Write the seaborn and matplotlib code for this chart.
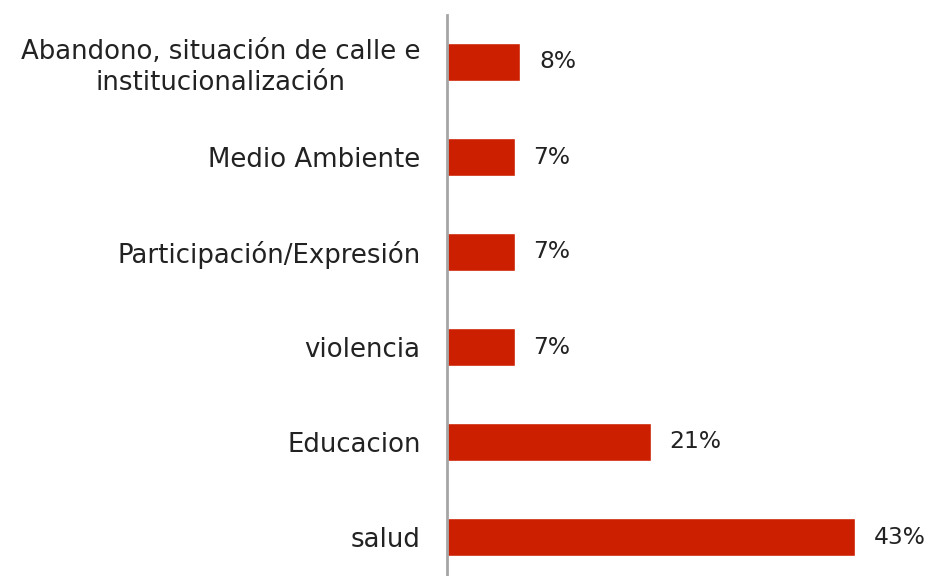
import matplotlib
matplotlib.use("Agg")
import matplotlib.pyplot as plt
import seaborn as sns
import pandas as pd

categories = ["Abandono, situación de calle e\ninstitucionalización",
              "Medio Ambiente", "Participación/Expresión", "violencia",
              "Educacion", "salud"]
values = [7.7, 7.1, 7.1, 7.1, 21.4, 42.9]
labels = ["8%", "7%", "7%", "7%", "21%", "43%"]

df = pd.DataFrame({"cat": categories, "val": values})

sns.set_style("white")
plt.rcParams["font.family"] = ["DejaVu Sans"]

fig = plt.figure(figsize=(9.27, 5.76), dpi=100)
W, H = 927, 576
left_px, top_px, right_px, bot_px = 447, 14.5, 927, 584.5
ax = fig.add_axes([left_px / W, 1 - bot_px / H, (right_px - left_px) / W, (bot_px - top_px) / H])

sns.barplot(data=df, x="val", y="cat", color="#CC1F00", width=0.39,
            saturation=1, ax=ax, orient="h")

px_per_unit = (855.5 - 447.5) / 42.9
ax.set_xlim(0, (right_px - left_px) / px_per_unit)
ax.set_ylim(5.5, -0.5)

for i, (v, lab) in enumerate(zip(values, labels)):
    ax.text(v + 19 / px_per_unit, i, lab, va="center", ha="left",
            fontsize=16.8, color="#222222")

ax.set_xlabel("")
ax.set_ylabel("")
ax.set_xticks([])
ax.tick_params(axis="y", length=0, pad=19, labelsize=18.7, labelcolor="#222222")
for t in ax.get_yticklabels():
    t.set_multialignment("center")
    t.set_linespacing(1.25)

for s in ["top", "right", "bottom"]:
    ax.spines[s].set_visible(False)
ax.spines["left"].set_color("#A6A6A6")
ax.spines["left"].set_linewidth(2)

fig.savefig("out.png", dpi=100)
